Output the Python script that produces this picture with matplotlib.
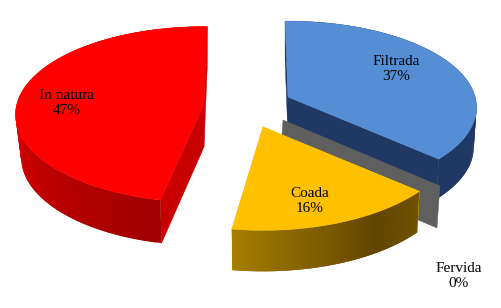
import numpy as np
import matplotlib
matplotlib.use("Agg")
import matplotlib.pyplot as plt
from matplotlib.patches import Polygon

plt.rcParams['font.family'] = ['Liberation Serif', 'DejaVu Serif']

labels = ["Filtrada", "Fervida", "Coada", "In natura"]
values = [37, 0, 16, 47]

# per-slice look: centre in pixels, x/y scale, rotation, wall depth, wall taper, colours
centers = [(288, 97), (283, 120), (263, 127), (204, 104)]
scale_x = [0.985, 1.04, 1.0, 0.985]
scale_y = [1.0, 1.04, 1.07, 1.02]
rotate = [-1.0, 0.0, -2.5, 1.1]
depths = [40, 42, 41, 43]
tapers = [0.985, 1.0, 0.987, 0.97]
top_colors = ["#558ED5", "#5F5F5F", "#FFC000", "#FF0000"]
cut_colors = ["#1F3864", "#5F5F5F", "#FFC000", "#C80000"]
wall_stops = [
    [(0, (31, 56, 100)), (1, (31, 56, 100))],
    [(0, (95, 95, 95)), (1, (95, 95, 95))],
    [(0, (112, 82, 0)), (0.3, (98, 70, 0)), (1, (165, 125, 0))],
    [(0, (160, 0, 0)), (0.55, (228, 0, 0)), (1, (228, 0, 0))],
]
label_xy = [(396, 69), (459, 276), (310, 201), (67, 103)]

A, B, K = 190.0, 85.0, 0.12


def project(i, theta):
    theta = theta + np.radians(rotate[i])
    u, v = np.sin(theta), np.cos(theta)
    d = 1 + K * v
    return (centers[i][0] + scale_x[i] * A * u / d,
            centers[i][1] - scale_y[i] * B * v / d)


fig = plt.figure(figsize=(5.01, 3.08), dpi=100)
ax = fig.add_axes([0, 0, 1, 1])
ax.set_xlim(0, 501)
ax.set_ylim(308, 0)
ax.axis("off")

fracs = np.array(values, dtype=float) / sum(values)
edges = np.concatenate([[0], np.cumsum(fracs)]) * 2 * np.pi

for i in [3, 0, 1, 2]:
    c, dp, tp = centers[i], depths[i], tapers[i]

    def low(px, py):
        return (c[0] + (px - c[0]) * tp, py + dp)

    cb = (c[0], c[1] + dp)
    if values[i] > 0:
        t = np.linspace(edges[i], edges[i + 1], 120)
        xs, ys = project(i, t)
        for th in (edges[i], edges[i + 1]):
            ex, ey = project(i, th)
            ax.add_patch(Polygon([c, (ex, ey), low(ex, ey), cb], fc=cut_colors[i],
                                 ec=cut_colors[i], lw=0.3, zorder=i * 3 + 1))
        # outer wall, drawn strip by strip for its shading; strips overlap to hide seams
        pos = [p for p, _ in wall_stops[i]]
        for j in range(len(t) - 1):
            f = j / (len(t) - 2)
            k2 = min(j + 2, len(t) - 1)
            col = [np.interp(f, pos, [q[k] for _, q in wall_stops[i]]) / 255 for k in range(3)]
            ax.add_patch(Polygon([(xs[j], ys[j]), (xs[k2], ys[k2]),
                                  low(xs[k2], ys[k2]), low(xs[j], ys[j])],
                                 fc=col, ec="none", lw=0, zorder=i * 3 + 1))
        ax.add_patch(Polygon(np.vstack([[c], np.c_[xs, ys]]), fc=top_colors[i],
                             ec=top_colors[i], lw=0.3, zorder=i * 3 + 2))
    else:
        # an empty slice only shows its cut face
        ex, ey = project(i, edges[i])
        ax.add_patch(Polygon([c, (ex, ey), (ex - 3, ey + dp), (c[0] - 3, c[1] + dp)],
                             fc=top_colors[i], ec=top_colors[i], lw=0.3, zorder=i * 3 + 1))

for name, val, (x, y) in zip(labels, values, label_xy):
    ax.text(x, y, f"{name}\n{val}%", ha="center", va="center", fontsize=11,
            color="black", linespacing=1.2, zorder=30)

fig.savefig("out.png", dpi=100)
